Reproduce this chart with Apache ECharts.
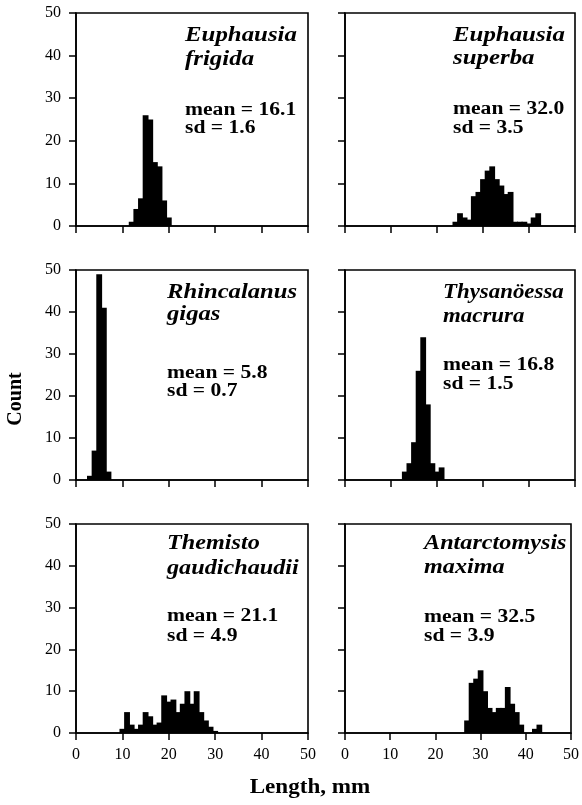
<!DOCTYPE html>
<html>
<head>
<meta charset="utf-8">
<script src="https://cdn.jsdelivr.net/npm/echarts@6/dist/echarts.min.js"></script>
<style>
html,body{margin:0;padding:0;background:#fff;}
#chart{width:582px;height:805px;}
</style>
</head>
<body>
<div id="chart"></div>
<script>
// ---- Data (bin centres in mm, counts) ----
const frigidaBins   = [12, 13, 14, 15, 16, 17, 18, 19, 20];
const frigidaCounts = [1, 4, 6.5, 26, 25, 15, 14, 6, 2];

const superbaBins   = [24, 25, 26, 27, 28, 29, 30, 31, 32, 33, 34, 35, 36, 37, 38, 39, 40, 41, 42];
const superbaCounts = [1, 3, 2, 1.5, 7, 8, 11, 13, 14, 11, 9.5, 7.5, 8, 1, 1, 1, 0.6, 2, 3];

const gigasBins   = [3, 4, 5, 6, 7];
const gigasCounts = [1, 7, 49, 41, 2];

const macruraBins   = [13, 14, 15, 16, 17, 18, 19, 20, 21];
const macruraCounts = [2, 4, 9, 26, 34, 18, 4, 2, 3];

const themistoBins   = [10, 11, 12, 13, 14, 15, 16, 17, 18, 19, 20, 21, 22, 23, 24, 25, 26, 27, 28, 29, 30];
const themistoCounts = [1, 5, 2, 1, 2, 5, 4, 2, 2.5, 9, 7.5, 8, 5, 7, 10, 7, 10, 5, 3, 1.5, 0.5];

const maximaBins   = [27, 28, 29, 30, 31, 32, 33, 34, 35, 36, 37, 38, 39, 40, 41, 42, 43];
const maximaCounts = [3, 12, 13, 15, 10, 6, 5, 6, 6, 11, 7, 5, 2, 0, 0, 1, 2];

const xTicks = [0, 10, 20, 30, 40, 50];
const yTicks = [0, 10, 20, 30, 40, 50];

const speciesLine1 = ['Euphausia', 'Euphausia', 'Rhincalanus', 'Thysanöessa', 'Themisto', 'Antarctomysis'];
const speciesLine2 = ['frigida', 'superba', 'gigas', 'macrura', 'gaudichaudii', 'maxima'];
const meanTexts = ['mean = 16.1', 'mean = 32.0', 'mean = 5.8', 'mean = 16.8', 'mean = 21.1', 'mean = 32.5'];
const sdTexts   = ['sd = 1.6', 'sd = 3.5', 'sd = 0.7', 'sd = 1.5', 'sd = 4.9', 'sd = 3.9'];

const xTitle = 'Length, mm';
const yTitle = 'Count';

// ---- Layout ----
const panelBins   = [frigidaBins, superbaBins, gigasBins, macruraBins, themistoBins, maximaBins];
const panelCounts = [frigidaCounts, superbaCounts, gigasCounts, macruraCounts, themistoCounts, maximaCounts];

const colLeft = [76, 345];
const colWidth = [232, 230];
const rowTop = [13, 270, 524];
const rowHeight = [213, 210, 209];

// text positions: [x, y1, y2, yMean, ySd, nameScale]
const textPos = [
  [185, 35, 59, 110, 128, 1.13],
  [453, 35, 58, 109, 128, 1.13],
  [167, 292, 314, 373, 391, 1.12],
  [443, 292, 316, 365, 384, 1.04],
  [167, 543, 568, 616, 636, 1.1],
  [424, 543, 567, 617, 636, 1.1]
];

const FONT = '"Liberation Serif", "Times New Roman", serif';
const grids = [], xAxes = [], yAxes = [], series = [], graphics = [];

for (let i = 0; i < 6; i++) {
  const col = i % 2, row = Math.floor(i / 2);
  grids.push({
    left: colLeft[col], top: rowTop[row], width: colWidth[col], height: rowHeight[row],
    show: true, borderColor: '#000', borderWidth: 1.6, backgroundColor: 'transparent', containLabel: false
  });
  xAxes.push({
    type: 'value', gridIndex: i, min: xTicks[0], max: xTicks[xTicks.length - 1], interval: 10,
    axisLine: { show: true, onZero: false, lineStyle: { color: '#000', width: 1.6 } },
    axisTick: { show: true, inside: false, length: 7, lineStyle: { color: '#000', width: 1.5 } },
    axisLabel: { show: row === 2, margin: 14, color: '#000', fontFamily: FONT, fontSize: 16 },
    splitLine: { show: false }
  });
  yAxes.push({
    type: 'value', gridIndex: i, min: yTicks[0], max: yTicks[yTicks.length - 1], interval: 10,
    axisLine: { show: true, onZero: false, lineStyle: { color: '#000', width: 1.6 } },
    axisTick: { show: true, inside: false, length: 7, lineStyle: { color: '#000', width: 1.5 } },
    axisLabel: { show: col === 0, margin: 15, color: '#000', fontFamily: FONT, fontSize: 16 },
    splitLine: { show: false }
  });
  const data = panelBins[i].map((b, k) => [b, panelCounts[i][k]]);
  series.push({
    type: 'custom', xAxisIndex: i, yAxisIndex: i, data: data,
    encode: { x: 0, y: 1 },
    itemStyle: { color: '#000', borderWidth: 0 },
    renderItem: function (params, api) {
      const c = api.value(0), v = api.value(1);
      if (!v) return null;
      const p0 = api.coord([c - 0.5, v]);
      const p1 = api.coord([c + 0.5, 0]);
      return {
        type: 'rect',
        shape: { x: p0[0] - 0.6, y: p0[1], width: p1[0] - p0[0] + 1.2, height: p1[1] - p0[1] },
        style: { fill: '#000', lineWidth: 0 }
      };
    }
  });
  const tp = textPos[i];
  const lines = [
    [speciesLine1[i], tp[1], 'italic bold 22px ' + FONT, tp[5]],
    [speciesLine2[i], tp[2], 'italic bold 22px ' + FONT, tp[5]],
    [meanTexts[i], tp[3], 'bold 18px ' + FONT, 1.2],
    [sdTexts[i], tp[4], 'bold 18px ' + FONT, 1.2]
  ];
  lines.forEach(l => {
    graphics.push({
      type: 'text', x: tp[0], y: l[1], scaleX: l[3], scaleY: 1,
      style: { text: l[0], font: l[2], fill: '#000', textAlign: 'left', textVerticalAlign: 'middle' }
    });
  });
}

graphics.push({
  type: 'text', x: 310, y: 787, scaleX: 1.05,
  style: { text: xTitle, font: 'bold 22px ' + FONT, fill: '#000', textAlign: 'center', textVerticalAlign: 'middle' }
});
graphics.push({
  type: 'text', x: 16, y: 399, rotation: Math.PI / 2,
  style: { text: yTitle, font: 'bold 20px ' + FONT, fill: '#000', textAlign: 'center', textVerticalAlign: 'middle' }
});

const chart = echarts.init(document.getElementById('chart'), null, { renderer: 'canvas' });
chart.setOption({
  animation: false,
  backgroundColor: '#fff',
  grid: grids,
  xAxis: xAxes,
  yAxis: yAxes,
  series: series,
  graphic: graphics
});
</script>
</body>
</html>
